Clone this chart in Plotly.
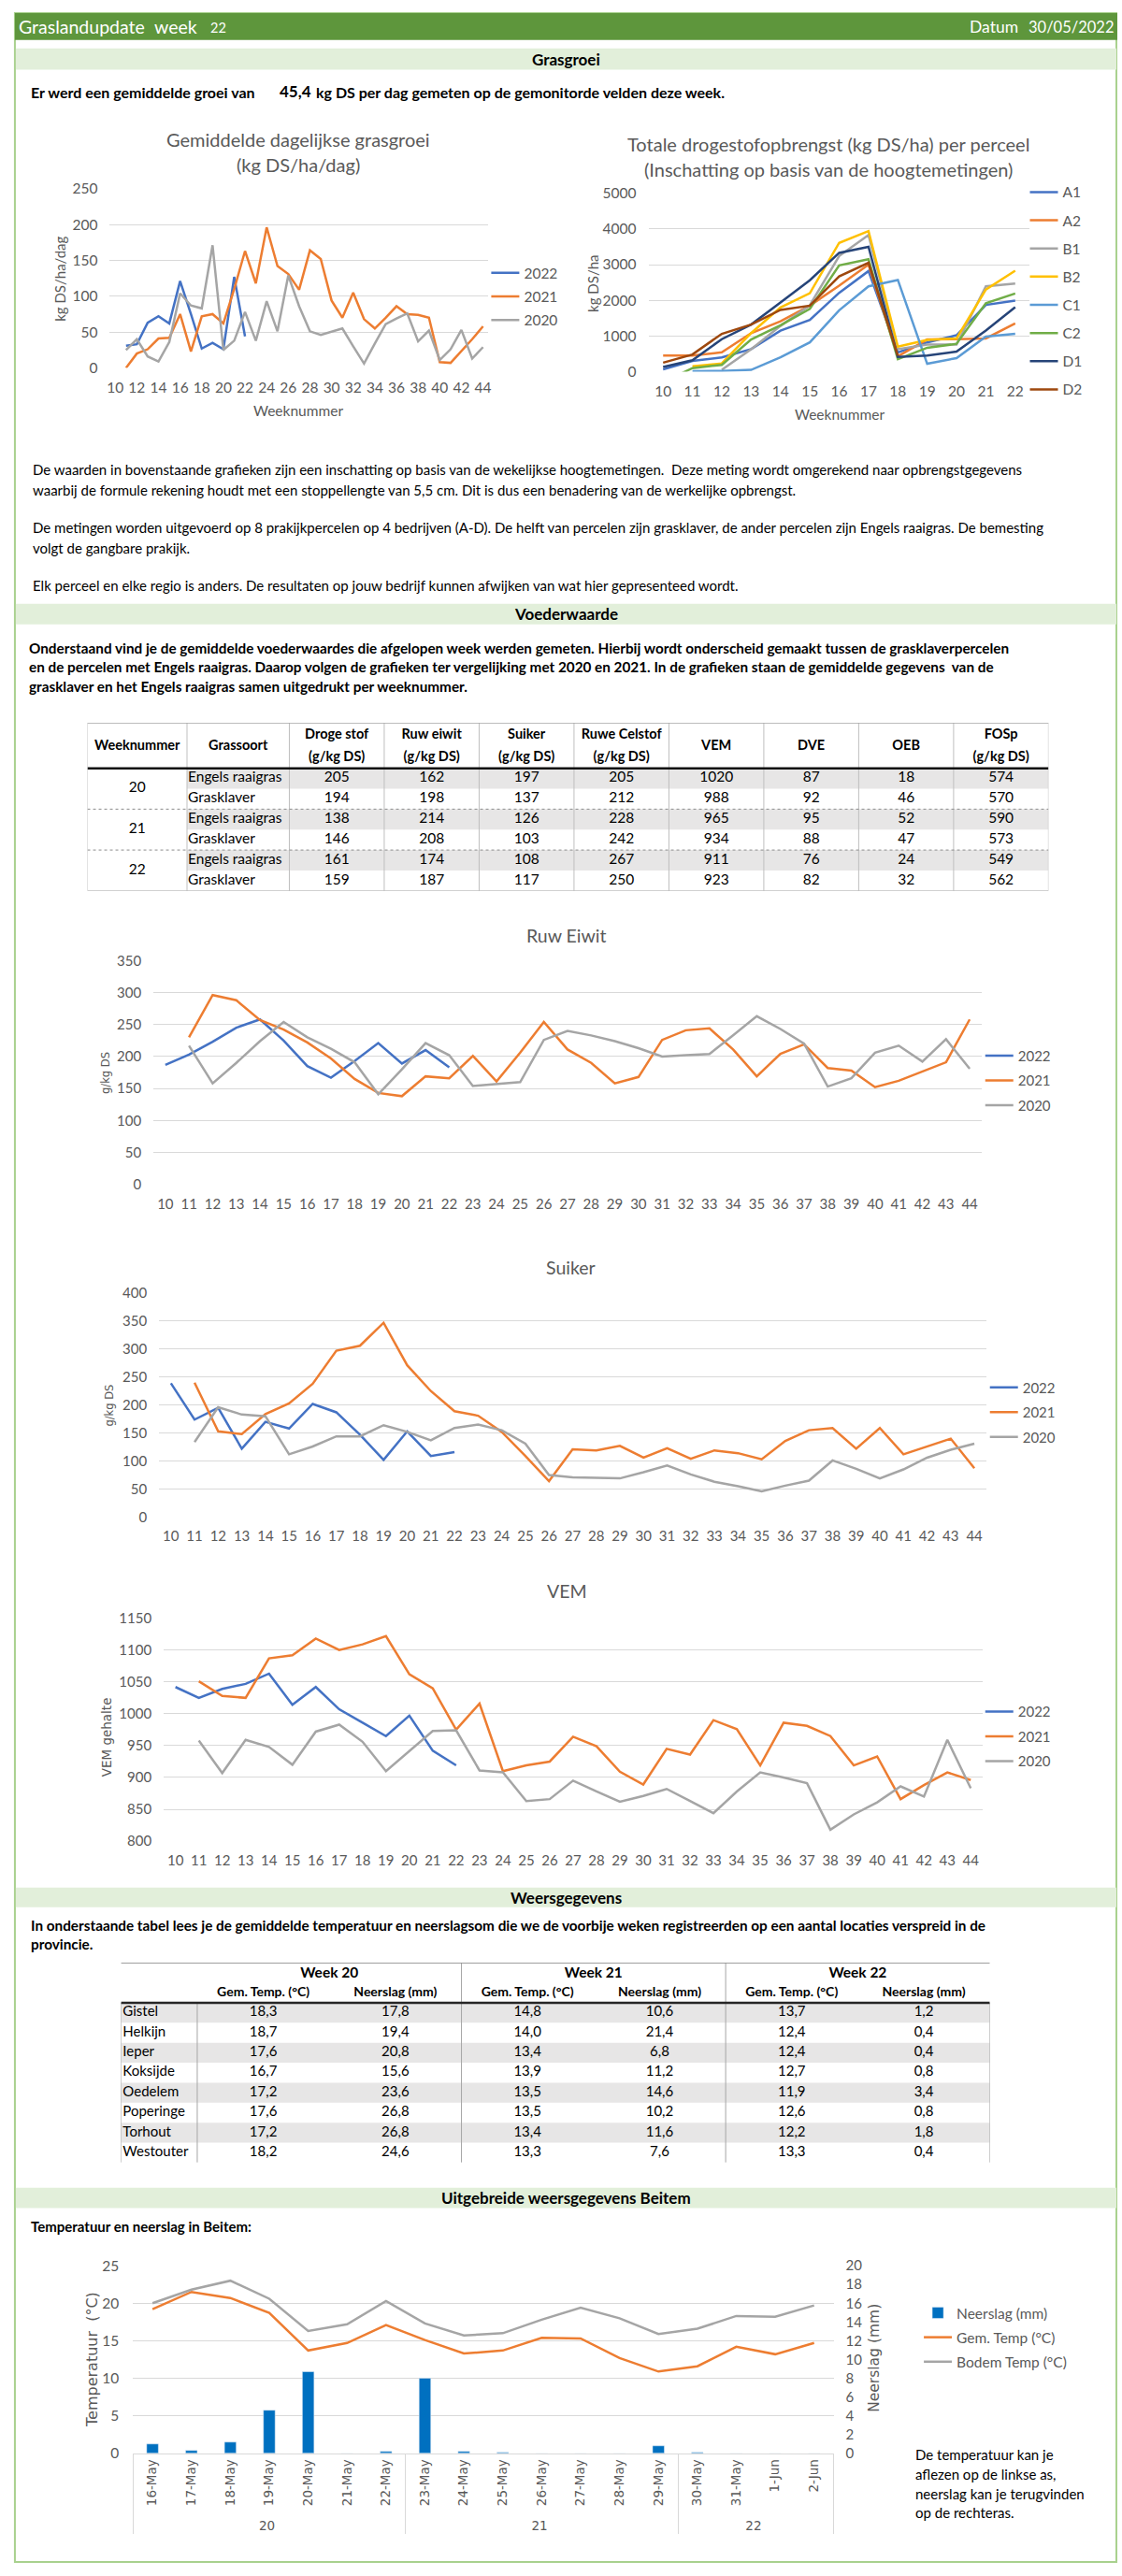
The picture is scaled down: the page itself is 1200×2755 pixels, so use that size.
import plotly.graph_objects as go

W, H = 1200, 2755
FONT = "Lato, 'Open Sans', sans-serif"
WIDE = "'DejaVu Sans', Verdana, sans-serif"
GREY = "#595959"
GRID = "#D9D9D9"
BAND = "#E2EFDA"
BLUE, ORANGE, SILVER = "#4472C4", "#ED7D31", "#A5A5A5"

# ---- Grasgroei (kg DS/ha/dag), weeks 11..44
growth_weeks = list(range(11, 45))
growth_2022 = [31, 33, 63, 72, 62, 121, 75, 27, 35, 26, 127, 44]
growth_2021 = [0, 20, 26, 41, 42, 75, 23, 72, 75, 62, 110, 163, 118, 196, 142, 131, 109,
               164, 152, 94, 70, 105, 68, 55, 70, 86, 75, 74, 70, 8, 7, 23, 40, 58]
growth_2020 = [25, 40, 16, 9, 36, 104, 87, 83, 171, 25, 38, 78, 38, 93, 51, 129, 86,
               51, 46, 50, 55, 30, 6, 34, 61, 69, 76, 37, 52, 11, 26, 53, 13, 29]

# ---- Totale drogestofopbrengst per perceel (kg DS/ha), weeks 10..22
yield_weeks = list(range(10, 23))
yield_plots = ["A1", "A2", "B1", "B2", "C1", "C2", "D1", "D2"]
yield_a1 = [60, 300, 400, 630, 1150, 1450, 2210, 2820, 540, 820, 1020, 1870, 1990]
yield_a2 = [450, 450, 540, 1080, 1410, 1850, 2410, 3000, 430, 900, 910, 930, 1350]
yield_b1 = [None, None, 50, 630, 1280, 1860, 3240, 3830, 630, 760, 760, 2390, 2470]
yield_b2 = [None, 150, 230, 1080, 1800, 2200, 3610, 3940, 700, 890, 930, 2300, 2830]
yield_c1 = [None, 10, 20, 50, 400, 820, 1720, 2390, 2570, 220, 380, 980, 1060]
yield_c2 = [-300, 100, 190, 900, 1300, 1760, 2980, 3150, 350, 670, 780, 1920, 2190]
yield_d1 = [130, 320, 910, 1320, 1940, 2560, 3330, 3500, 410, 450, 560, 1150, 1810]
yield_d2 = [250, 480, 1060, 1320, 1730, 1850, 2670, 3050, 450]
yield_colors = ["#4472C4", "#ED7D31", "#A5A5A5", "#FFC000", "#5B9BD5", "#70AD47", "#264478", "#9E480E"]

# ---- Voederwaarde table
feed_weeks = ["20", "21", "22"]
feed_types = ["Engels raaigras", "Grasklaver"] * 3
feed_headers = ["Weeknummer", "Grassoort", "Droge stof|(g/kg DS)", "Ruw eiwit|(g/kg DS)",
                "Suiker|(g/kg DS)", "Ruwe Celstof|(g/kg DS)", "VEM", "DVE", "OEB", "FOSp|(g/kg DS)"]
droge_stof = [205, 194, 138, 146, 161, 159]
ruw_eiwit = [162, 198, 214, 208, 174, 187]
suiker = [197, 137, 126, 103, 108, 117]
ruwe_celstof = [205, 212, 228, 242, 267, 250]
vem = [1020, 988, 965, 934, 911, 923]
dve = [87, 92, 95, 88, 76, 82]
oeb = [18, 46, 52, 47, 24, 32]
fosp = [574, 570, 590, 573, 549, 562]

# ---- Ruw eiwit / Suiker / VEM, weeks 10..44
season_weeks = list(range(10, 45))
protein_2022 = [187, 203, 223, 245, 258, 225, 185, 167, 193, 221, 189, 210, 183]
protein_2021 = [None, 230, 296, 288, 257, 242, 222, 197, 165, 143, 138, 169, 166, 201, 161, 206, 254, 211,
                190, 158, 168, 226, 241, 244, 211, 169, 204, 219, 182, 178, 152, 162, 177, 191, 258]
protein_2020 = [None, 217, 158, 190, 224, 254, 230, 212, 191, 141, 180, 221, 202, 154, 157, 160, 226, 240,
                233, 224, 213, 200, 202, 204, 233, 263, 243, 220, 153, 166, 206, 217, 192, 227, 181]
sugar_2022 = [239, 174, 195, 122, 170, 158, 202, 187, 147, 102, 153, 109, 116]
sugar_2021 = [None, 240, 153, 148, 184, 203, 238, 297, 306, 347, 271, 225, 189, 181, 152, 109, 64, 121,
              119, 127, 106, 123, 104, 119, 114, 103, 136, 155, 159, 122, 159, 112, 126, 140, 87]
sugar_2020 = [None, 134, 196, 183, 180, 112, 126, 144, 144, 164, 152, 137, 159, 165, 155, 131, 75, 71,
              70, 69, 80, 92, 76, 63, 55, 46, 56, 65, 101, 86, 69, 85, 106, 120, 131]
vem_2022 = [1042, 1025, 1039, 1047, 1063, 1014, 1042, 1007, 986, 965, 997, 942, 919]
vem_2021 = [None, 1051, 1028, 1025, 1087, 1092, 1118, 1100, 1109, 1122, 1062, 1040, 975, 1016, 910, 919,
            925, 964, 949, 909, 889, 945, 936, 990, 976, 919, 986, 981, 965, 919, 933, 866, 888, 908, 896]
vem_2020 = [None, 958, 907, 959, 948, 920, 972, 983, 956, 910, 942, 973, 974, 911, 908, 863, 866, 895,
            878, 862, 871, 882, 863, 844, 878, 908, 900, 891, 818, 842, 861, 886, 870, 959, 883]

# ---- Weersgegevens table
stations = ["Gistel", "Helkijn", "Ieper", "Koksijde", "Oedelem", "Poperinge", "Torhout", "Westouter"]
weather_weeks = ["Week 20", "Week 21", "Week 22"]
temp_w20 = [18.3, 18.7, 17.6, 16.7, 17.2, 17.6, 17.2, 18.2]
rain_w20 = [17.8, 19.4, 20.8, 15.6, 23.6, 26.8, 26.8, 24.6]
temp_w21 = [14.8, 14.0, 13.4, 13.9, 13.5, 13.5, 13.4, 13.3]
rain_w21 = [10.6, 21.4, 6.8, 11.2, 14.6, 10.2, 11.6, 7.6]
temp_w22 = [13.7, 12.4, 12.4, 12.7, 11.9, 12.6, 12.2, 13.3]
rain_w22 = [1.2, 0.4, 0.4, 0.8, 3.4, 0.8, 1.8, 0.4]

# ---- Beitem daily weather
beitem_days = ["16-May", "17-May", "18-May", "19-May", "20-May", "21-May", "22-May", "23-May", "24-May",
               "25-May", "26-May", "27-May", "28-May", "29-May", "30-May", "31-May", "1-Jun", "2-Jun"]
beitem_week = ["20"] * 7 + ["21"] * 7 + ["22"] * 4
beitem_rain = [1.0, 0.3, 1.2, 4.6, 8.7, 0.0, 0.2, 8.0, 0.2, 0.1, 0.0, 0.0, 0.0, 0.8, 0.1, 0.0, 0.0, 0.0]
beitem_temp = [19.2, 21.5, 20.7, 18.7, 13.7, 14.7, 17.1, 15.1, 13.3, 13.7, 15.4, 15.3, 12.7, 10.9, 11.6,
               14.2, 13.2, 14.7]
beitem_soil = [20.0, 21.8, 23.0, 20.6, 16.3, 17.2, 20.3, 17.3, 15.7, 16.0, 17.8, 19.4, 18.0, 15.9, 16.6,
               18.3, 18.2, 19.7]


def px(x):
    return x / W


def py(y):
    return 1 - y / H


def ax(n, kind):
    return kind if n == 1 else f"{kind}{n}"


def lay(n, kind):
    return f"{kind}axis" if n == 1 else f"{kind}axis{n}"


def comma(v):
    return f"{v:.1f}".replace(".", ",")


fig = go.Figure()
layout = {}
annotations = []
shapes = []


def note(text, x, y, size=15, bold=False, color="black", family=FONT, anchor="left", angle=0):
    annotations.append(dict(
        text=f"<b>{text}</b>" if bold else text, x=px(x), y=py(y), xref="paper", yref="paper",
        xanchor=anchor, yanchor="middle", showarrow=False, textangle=angle,
        font=dict(family=family, size=size, color=color),
    ))


def band(y0, y1, title):
    shapes.append(dict(type="rect", xref="paper", yref="paper", x0=px(14), x1=px(1197),
                       y0=py(y1), y1=py(y0), fillcolor=BAND, line_width=0, layer="below"))
    note(title, 606, (y0 + y1) / 2, size=17, bold=True, anchor="center")


def line_chart(n, xdom, ydom, yrange, ydtick, ticks, legend_name, legend_pos, font_size=15, gap=4):
    layout[lay(n, "x")] = dict(
        domain=[px(xdom[0]), px(xdom[1])], range=[9.5, 44.5] if max(ticks) > 30 else [9.5, 22.5],
        tickmode="array", tickvals=ticks, ticktext=[str(t) for t in ticks],
        showgrid=False, zeroline=False, showline=False, ticks="", anchor=ax(n, "y"),
        tickfont=dict(family=FONT, size=font_size, color=GREY), ticklabelstandoff=10, fixedrange=True,
    )
    layout[lay(n, "y")] = dict(
        domain=[py(ydom[1]), py(ydom[0])], range=yrange, dtick=ydtick, gridcolor=GRID, gridwidth=1,
        zeroline=False, showline=False, ticks="", anchor=ax(n, "x"),
        tickfont=dict(family=FONT, size=font_size, color=GREY), ticklabelstandoff=12, fixedrange=True,
    )
    layout[legend_name] = dict(
        x=px(legend_pos[0]), y=py(legend_pos[1]), xanchor="left", yanchor="top",
        font=dict(family=FONT, size=font_size, color=GREY), bgcolor="rgba(0,0,0,0)",
        itemwidth=30, tracegroupgap=gap, traceorder="grouped",
    )


def add_lines(n, weeks, series, legend_name, width=2.5):
    for label, values, color in series:
        fig.add_trace(go.Scatter(
            x=weeks[:len(values)], y=values, mode="lines", name=label,
            line=dict(color=color, width=width), xaxis=ax(n, "x"), yaxis=ax(n, "y"),
            legend=legend_name, legendgroup=f"{legend_name}{label}", hoverinfo="skip",
        ))


# ---- page frame
shapes.append(dict(type="rect", xref="paper", yref="paper", x0=px(13), x1=px(1197), y0=py(2748), y1=py(4),
                   line=dict(color="#A9D18E", width=2), fillcolor="rgba(0,0,0,0)", layer="below"))
shapes.append(dict(type="rect", xref="paper", yref="paper", x0=px(13), x1=px(1198), y0=py(33), y1=py(4),
                   fillcolor="#5E963C", line_width=0, layer="below"))
note("Graslandupdate", 15, 19, size=19.5, color="white")
note("week", 161, 19, size=19.5, color="white")
note("22", 221, 20, size=14.5, color="white")
note("Datum", 1037, 19, size=17.5, color="white")
note("30/05/2022", 1196, 19, size=16.5, color="white", anchor="right")

band(42, 65, "Grasgroei")
note("Er werd een gemiddelde groei van", 28, 89, size=16, bold=True)
note("45,4", 295, 88, size=17, bold=True)
note("kg DS per dag gemeten op de gemonitorde velden deze week.", 335, 89, size=16, bold=True)

# ---- chart 1: grasgroei
line_chart(1, (115, 522), (193, 386), [0, 250], 50, list(range(10, 45, 2)), "legend", (520, 267),
           font_size=15.5, gap=2)
add_lines(1, growth_weeks, [("2022", growth_2022, BLUE), ("2021", growth_2021, ORANGE),
                            ("2020", growth_2020, SILVER)], "legend")
note("Gemiddelde dagelijkse grasgroei", 318, 140, size=20, color=GREY, anchor="center")
note("(kg DS/ha/dag)", 318, 167, size=20, color=GREY, anchor="center")
note("kg DS/ha/dag", 61, 290, size=15, color=GREY, anchor="center", angle=-90)
note("Weeknummer", 318, 432, size=15.5, color=GREY, anchor="center")

# ---- chart 2: drogestofopbrengst per perceel
line_chart(2, (694, 1104), (198, 390), [0, 5000], 1000, yield_weeks, "legend2", (1099, 180),
           font_size=15.5, gap=7)
add_lines(2, yield_weeks, list(zip(yield_plots, [yield_a1, yield_a2, yield_b1, yield_b2, yield_c1,
                                                 yield_c2, yield_d1, yield_d2], yield_colors)), "legend2")
note("Totale drogestofopbrengst (kg DS/ha) per perceel", 887, 145, size=20, color=GREY, anchor="center")
note("(Inschatting op basis van de hoogtemetingen)", 887, 172, size=20, color=GREY, anchor="center")
note("kg DS/ha", 634, 295, size=15, color=GREY, anchor="center", angle=-90)
note("Weeknummer", 899, 436, size=15.5, color=GREY, anchor="center")

# ---- explanatory text
note("De waarden in bovenstaande grafieken zijn een inschatting op basis van de wekelijkse hoogtemetingen."
     "\u00a0 Deze meting wordt omgerekend naar opbrengstgegevens", 30, 495)
note("waarbij de formule rekening houdt met een stoppellengte van 5,5 cm. Dit is dus een benadering van de "
     "werkelijke opbrengst.", 30, 517)
note("De metingen worden uitgevoerd op 8 prakijkpercelen op 4 bedrijven (A-D). De helft van percelen zijn "
     "grasklaver, de ander percelen zijn Engels raaigras. De bemesting", 30, 558)
note("volgt de gangbare prakijk.", 30, 580)
note("Elk perceel en elke regio is anders. De resultaten op jouw bedrijf kunnen afwijken van wat hier "
     "gepresenteed wordt.", 30, 620)

band(640, 662, "Voederwaarde")
note("Onderstaand vind je de gemiddelde voederwaardes die afgelopen week werden gemeten. Hierbij wordt "
     "onderscheid gemaakt tussen de grasklaverpercelen", 26, 687, size=15.3, bold=True)
note("en de percelen met Engels raaigras. Daarop volgen de grafieken ter vergelijking met 2020 en 2021. "
     "In de grafieken staan de gemiddelde gegevens\u00a0 van de", 26, 708, size=15.3, bold=True)
note("grasklaver en het Engels raaigras samen uitgedrukt per weeknummer.", 26, 729, size=15.3, bold=True)

# ---- table 1: voederwaarde (header 49 px, rows 22 px)
feed_widths = [107, 110] + [102] * 8
feed_edges = [sum(feed_widths[:i]) for i in range(len(feed_widths) + 1)]
feed_values = [droge_stof, ruw_eiwit, suiker, ruwe_celstof, vem, dve, oeb, fosp]
HDR = 49 / 22
n_rows = len(feed_types)
layout["xaxis3"] = dict(domain=[px(91), px(91 + feed_edges[-1])], range=[0, feed_edges[-1]],
                        visible=False, fixedrange=True, anchor="y3")
layout["yaxis3"] = dict(domain=[py(768 + 49 + 22 * n_rows), py(768)], range=[HDR + n_rows, 0], visible=False,
                        fixedrange=True, anchor="x3")
for i, t in enumerate(feed_types):
    if t == "Engels raaigras":
        shapes.append(dict(type="rect", xref="x3", yref="y3", x0=feed_edges[1], x1=feed_edges[-1],
                           y0=HDR + i, y1=HDR + 1 + i, fillcolor="#E7E6E6", line_width=0, layer="below"))
for e in feed_edges:
    shapes.append(dict(type="line", xref="x3", yref="y3", x0=e, x1=e, y0=0, y1=HDR + n_rows,
                       line=dict(color="#BFBFBF", width=1)))
for yy, col, wd, dash in [(0, "#A6A6A6", 1.5, "solid"), (HDR, "#111111", 2.5, "solid"),
                          (HDR + 2, "#8C8C8C", 1, "dot"), (HDR + 4, "#8C8C8C", 1, "dot"),
                          (HDR + n_rows, "#A6A6A6", 1, "solid")]:
    shapes.append(dict(type="line", xref="x3", yref="y3", x0=0, x1=feed_edges[-1], y0=yy, y1=yy,
                       line=dict(color=col, width=wd, dash=dash)))
hx, hy, ht = [], [], []
for j, head in enumerate(feed_headers):
    parts = head.split("|")
    centre = (feed_edges[j] + feed_edges[j + 1]) / 2
    ys = [HDR / 2 + 0.05] if len(parts) == 1 else [HDR * 0.28, HDR * 0.76]
    for part, yy in zip(parts, ys):
        hx.append(centre)
        hy.append(yy)
        ht.append(f"<b>{part}</b>")
fig.add_trace(go.Scatter(x=hx, y=hy, text=ht, mode="text", textposition="middle center",
                         textfont=dict(family=FONT, size=14.5, color="black"), xaxis="x3", yaxis="y3",
                         showlegend=False, hoverinfo="skip", cliponaxis=False))
bx, by, bt = [], [], []
for g, wk in enumerate(feed_weeks):
    bx.append(feed_edges[1] / 2)
    by.append(HDR + 1 + 2 * g)
    bt.append(wk)
for j, col in enumerate(feed_values):
    centre = (feed_edges[j + 2] + feed_edges[j + 3]) / 2
    for i, v in enumerate(col):
        bx.append(centre)
        by.append(HDR + 0.5 + i)
        bt.append(str(v))
fig.add_trace(go.Scatter(x=bx, y=by, text=bt, mode="text", textposition="middle center",
                         textfont=dict(family=FONT, size=15.5, color="black"), xaxis="x3", yaxis="y3",
                         showlegend=False, hoverinfo="skip", cliponaxis=False))
fig.add_trace(go.Scatter(x=[feed_edges[1] + 1] * n_rows, y=[HDR + 0.5 + i for i in range(n_rows)],
                         text=feed_types, mode="text", textposition="middle right",
                         textfont=dict(family=FONT, size=15.5, color="black"), xaxis="x3", yaxis="y3",
                         showlegend=False, hoverinfo="skip", cliponaxis=False))

# ---- charts 4-6: ruw eiwit, suiker, VEM
line_chart(4, (162, 1052), (1024, 1265), [0, 350], 50, season_weeks, "legend3", (1051, 1110), gap=4)
add_lines(4, season_weeks, [("2022", protein_2022, BLUE), ("2021", protein_2021, ORANGE),
                            ("2020", protein_2020, SILVER)], "legend3")
note("Ruw Eiwit", 606, 997, size=19.5, color=GREY, anchor="center")
note("g/kg DS", 110, 1145, size=11.5, color=GREY, family=WIDE, anchor="center", angle=-90)

line_chart(5, (168, 1057), (1382, 1623), [0, 400], 50, season_weeks, "legend4", (1056, 1467), gap=4)
add_lines(5, season_weeks, [("2022", sugar_2022, BLUE), ("2021", sugar_2021, ORANGE),
                            ("2020", sugar_2020, SILVER)], "legend4")
note("Suiker", 611, 1354, size=19.5, color=GREY, anchor="center")
note("g/kg DS", 115, 1503, size=11.5, color=GREY, family=WIDE, anchor="center", angle=-90)

line_chart(6, (173, 1053), (1732, 1972), [800, 1150], 50, season_weeks, "legend5", (1051, 1816), gap=4)
add_lines(6, season_weeks, [("2022", vem_2022, BLUE), ("2021", vem_2021, ORANGE),
                            ("2020", vem_2020, SILVER)], "legend5")
note("VEM", 607, 1703, size=19.5, color=GREY, anchor="center")
note("VEM gehalte", 111, 1860, size=13.5, color=GREY, family=WIDE, anchor="center", angle=-90)

# ---- weersgegevens
band(2022, 2043, "Weersgegevens")
note("In onderstaande tabel lees je de gemiddelde temperatuur en neerslagsom die we de voorbije weken "
     "registreerden op een aantal locaties verspreid in de", 28, 2062, size=15.3, bold=True)
note("provincie.", 28, 2083, size=15.3, bold=True)

weather_widths = [82] + [142] * 6
weather_edges = [sum(weather_widths[:i]) for i in range(len(weather_widths) + 1)]
weather_cols = [temp_w20, rain_w20, temp_w21, rain_w21, temp_w22, rain_w22]
weather_sub = ["Gem. Temp. (°C)", "Neerslag (mm)"] * 3
layout["xaxis7"] = dict(domain=[px(127), px(127 + weather_edges[-1])], range=[0, weather_edges[-1]],
                        visible=False, fixedrange=True, anchor="y7")
layout["yaxis7"] = dict(domain=[py(2318), py(2103)], range=[10, 0], visible=False, fixedrange=True,
                        anchor="x7")
for i in range(0, len(stations), 2):
    shapes.append(dict(type="rect", xref="x7", yref="y7", x0=0, x1=weather_edges[-1], y0=2 + i, y1=3 + i,
                       fillcolor="#E7E6E6", line_width=0, layer="below"))
for e in [0, weather_edges[1], weather_edges[-1]]:
    shapes.append(dict(type="line", xref="x7", yref="y7", x0=e, x1=e, y0=2, y1=10,
                       line=dict(color="#A6A6A6", width=1)))
for e in [weather_edges[3], weather_edges[5]]:
    shapes.append(dict(type="line", xref="x7", yref="y7", x0=e, x1=e, y0=0, y1=10,
                       line=dict(color="#A6A6A6", width=1)))
shapes.append(dict(type="line", xref="x7", yref="y7", x0=0, x1=weather_edges[-1], y0=0, y1=0,
                   line=dict(color="#7F7F7F", width=1.5)))
shapes.append(dict(type="line", xref="x7", yref="y7", x0=0, x1=weather_edges[-1], y0=2, y1=2,
                   line=dict(color="#262626", width=2.5)))
fig.add_trace(go.Scatter(
    x=[(weather_edges[1 + 2 * g] + weather_edges[3 + 2 * g]) / 2 for g in range(3)], y=[0.56] * 3,
    text=[f"<b>{w}</b>" for w in weather_weeks], mode="text", textposition="middle center",
    textfont=dict(family=FONT, size=15.5, color="black"), xaxis="x7", yaxis="y7",
    showlegend=False, hoverinfo="skip", cliponaxis=False))
fig.add_trace(go.Scatter(
    x=[(weather_edges[j + 1] + weather_edges[j + 2]) / 2 for j in range(6)], y=[1.5] * 6,
    text=[f"<b>{s}</b>" for s in weather_sub], mode="text", textposition="middle center",
    textfont=dict(family=FONT, size=14, color="black"), xaxis="x7", yaxis="y7",
    showlegend=False, hoverinfo="skip", cliponaxis=False))
wx, wy, wt = [], [], []
for j, col in enumerate(weather_cols):
    centre = (weather_edges[j + 1] + weather_edges[j + 2]) / 2
    for i, v in enumerate(col):
        wx.append(centre)
        wy.append(2.5 + i)
        wt.append(comma(v))
fig.add_trace(go.Scatter(x=wx, y=wy, text=wt, mode="text", textposition="middle center",
                         textfont=dict(family=FONT, size=15, color="black"), xaxis="x7", yaxis="y7",
                         showlegend=False, hoverinfo="skip", cliponaxis=False))
fig.add_trace(go.Scatter(x=[2] * len(stations), y=[2.5 + i for i in range(len(stations))], text=stations,
                         mode="text", textposition="middle right",
                         textfont=dict(family=FONT, size=15, color="black"), xaxis="x7", yaxis="y7",
                         showlegend=False, hoverinfo="skip", cliponaxis=False))

# ---- Beitem
band(2345, 2367, "Uitgebreide weersgegevens Beitem")
note("Temperatuur en neerslag in Beitem:", 28, 2387, size=15, bold=True)
beitem_x = [beitem_week, beitem_days]
fig.add_trace(go.Bar(x=beitem_x, y=beitem_rain, name="Neerslag (mm)", marker_color="#0070C0",
                     xaxis="x8", yaxis="y9", legend="legend6", legendgroup="rain", hoverinfo="skip"))
fig.add_trace(go.Scatter(x=beitem_x, y=beitem_temp, name="Gem. Temp (°C)", mode="lines",
                         line=dict(color=ORANGE, width=2.5), xaxis="x8", yaxis="y8", legend="legend6",
                         legendgroup="temp", hoverinfo="skip"))
fig.add_trace(go.Scatter(x=beitem_x, y=beitem_soil, name="Bodem Temp (°C)", mode="lines",
                         line=dict(color=SILVER, width=2.5), xaxis="x8", yaxis="y8", legend="legend6",
                         legendgroup="soil", hoverinfo="skip"))
layout["xaxis8"] = dict(domain=[px(140), px(893)], type="multicategory", tickangle=-90, anchor="y8",
                        tickfont=dict(family=WIDE, size=13.5, color=GREY), showgrid=False, ticks="",
                        showline=True, linecolor=GRID, showdividers=True, dividercolor=GRID,
                        dividerwidth=1, fixedrange=True)
layout["yaxis8"] = dict(domain=[py(2631), py(2429)], range=[0, 25], dtick=5, gridcolor=GRID, zeroline=False,
                        showline=False, ticks="", anchor="x8", ticklabelstandoff=14,
                        tickfont=dict(family=FONT, size=15.5, color=GREY), fixedrange=True)
layout["yaxis9"] = dict(overlaying="y8", side="right", range=[0, 20], dtick=2, showgrid=False,
                        zeroline=False, showline=False, ticks="", anchor="x8", ticklabelstandoff=12,
                        tickfont=dict(family=FONT, size=15, color=GREY), fixedrange=True)
layout["legend6"] = dict(x=px(985), y=py(2463), xanchor="left", yanchor="top",
                         font=dict(family=FONT, size=15.5, color=GREY), bgcolor="rgba(0,0,0,0)",
                         itemwidth=30, tracegroupgap=3, traceorder="grouped")
note("Temperatuur\u00a0 (°C)", 96, 2530, size=16, color=GREY, family=WIDE, anchor="center", angle=-90)
note("Neerslag (mm)", 937, 2528, size=15.5, color=GREY, family=WIDE, anchor="center", angle=-90)
for k, line in enumerate(["De temperatuur kan je", "aflezen op de linkse as,", "neerslag kan je terugvinden",
                          "op de rechteras."]):
    note(line, 979, 2632 + 21 * k, size=15)

fig.update_layout(
    width=W, height=H, margin=dict(l=0, r=0, t=0, b=0), autosize=False,
    paper_bgcolor="white", plot_bgcolor="white", bargap=0.7, showlegend=True,
    annotations=annotations, shapes=shapes, **layout,
)
# the page body has a default 8px margin; drop it so the figure sits flush in the window
fig.write_html("out.html", config={"displayModeBar": False},
               post_script="document.body.style.margin = '0px';")
